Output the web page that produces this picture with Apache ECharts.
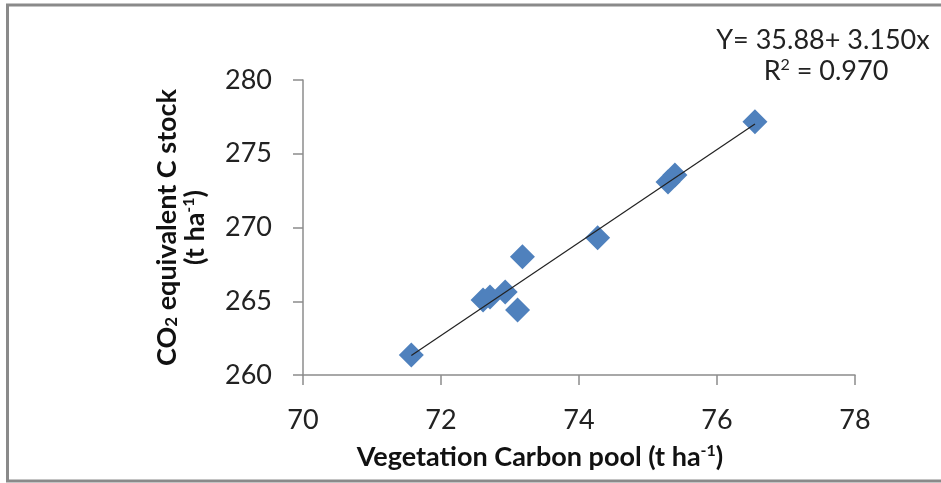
<!DOCTYPE html>
<html>
<head>
<meta charset="utf-8">
<script src="https://cdn.jsdelivr.net/npm/echarts@6/dist/echarts.min.js"></script>
<style>html,body{margin:0;padding:0;background:#fff}#c{width:941px;height:483px}</style>
</head>
<body>
<div id="c"></div>
<script>
// Data
const xValues = [71.57, 72.61, 72.71, 72.93, 73.11, 73.18, 74.27, 75.29, 75.39, 76.55];
const yValues = [261.36, 265.08, 265.29, 265.63, 264.41, 268.02, 269.31, 273.08, 273.56, 277.17];
const intercept = 35.88;
const slope = 3.150;
const r2Text = '0.970';
const xTicks = [70, 72, 74, 76, 78];
const yTicks = [260, 265, 270, 275, 280];

const points = xValues.map((x, i) => [x, yValues[i]]);
const xMin = Math.min(...xValues), xMax = Math.max(...xValues);
const trend = [[xMin, intercept + slope * xMin], [xMax, intercept + slope * xMax]];

const FONT = 'Lato';
const chart = echarts.init(document.getElementById('c'));
chart.setOption({
  backgroundColor: '#fff',
  animation: false,
  grid: { left: 303, right: 86, top: 80, bottom: 108 },
  xAxis: {
    type: 'value', min: xTicks[0], max: xTicks[xTicks.length - 1], interval: 2,
    splitLine: { show: false },
    axisLine: { onZero: false, lineStyle: { color: '#8c8c8c', width: 1.5 } },
    axisTick: { show: true, length: 10, lineStyle: { color: '#8c8c8c', width: 1.5 } },
    axisLabel: { margin: 32, fontFamily: FONT, fontSize: 27, color: '#222' },
    name: '{b|Vegetation Carbon pool (t ha}{sup|-1}{b|)}',
    nameLocation: 'middle', nameGap: 68,
    nameTextStyle: {
      padding: [0, 78, 0, 0],
      rich: {
        b: { fontFamily: FONT, fontWeight: 'bold', fontSize: 27, color: '#111' },
        sup: { fontFamily: FONT, fontWeight: 'bold', fontSize: 16, color: '#111', padding: [0, 0, 13, 0] }
      }
    }
  },
  yAxis: {
    type: 'value', min: yTicks[0], max: yTicks[yTicks.length - 1], interval: 5,
    splitLine: { show: false },
    axisLine: { show: true, lineStyle: { color: '#8c8c8c', width: 1.5 } },
    axisTick: { show: true, length: 10, lineStyle: { color: '#8c8c8c', width: 1.5 } },
    axisLabel: { margin: 31, fontFamily: FONT, fontSize: 27, color: '#222' },
    name: '{b|CO}{sub|2}{b| equivalent C stock}\n{b|(t ha}{sup|-1}{b|)}',
    nameLocation: 'middle', nameRotate: 90, nameGap: 94,
    nameTextStyle: {
      lineHeight: 28,
      rich: {
        b: { fontFamily: FONT, fontWeight: 'bold', fontSize: 27, color: '#111', lineHeight: 28 },
        sub: { fontFamily: FONT, fontWeight: 'bold', fontSize: 17, color: '#111', padding: [9, 0, 0, 0], lineHeight: 28 },
        sup: { fontFamily: FONT, fontWeight: 'bold', fontSize: 16, color: '#111', padding: [0, 0, 13, 0], lineHeight: 28 }
      }
    }
  },
  graphic: [
    { type: 'rect', silent: true, z: -1,
      shape: { x: 7.5, y: 5, width: 1000, height: 476 },
      style: { fill: 'none', stroke: '#8a8a8a', lineWidth: 3 } },
    { type: 'text', x: 823, y: 40, z: 10,
      style: { text: 'Y= ' + intercept.toFixed(2) + '+ ' + slope.toFixed(3) + 'x', font: '27px ' + FONT, fill: '#222', align: 'center', verticalAlign: 'middle' } },
    { type: 'text', x: 826, y: 71, z: 10,
      style: {
        text: '{t|R}{s|2}{t| = ' + r2Text + '}', align: 'center', verticalAlign: 'middle',
        rich: {
          t: { fontFamily: FONT, fontSize: 27, fill: '#222', color: '#222' },
          s: { fontFamily: FONT, fontSize: 16, fill: '#222', color: '#222', padding: [0, 0, 13, 0] }
        }
      } }
  ],
  series: [
    { type: 'line', data: trend, symbol: 'none', z: 3,
      lineStyle: { color: '#222', width: 1.2 } },
    { type: 'scatter', data: points, symbol: 'diamond', symbolSize: 25, z: 2,
      itemStyle: { color: '#4F81BD', opacity: 1 } }
  ]
});
</script>
</body>
</html>
